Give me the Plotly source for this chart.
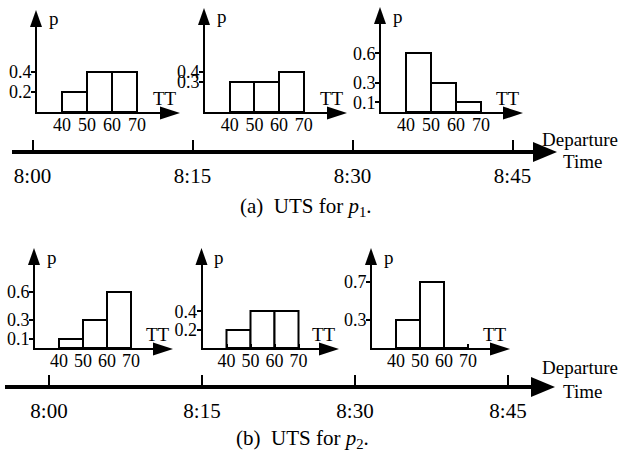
import plotly.graph_objects as go

W, H = 620, 454
FONT = "Liberation Serif, Times New Roman, serif"

# ---------------- data ----------------
tt_bins = [40, 50, 60]            # left edges of travel-time bins
tt_ticks = [40, 50, 60, 70]
bin_width = 10
tt_origin = 30

# UTS for p1 (departures 8:00, 8:15, 8:30)
p1_0800 = [0.2, 0.4, 0.4]
p1_0815 = [0.3, 0.3, 0.4]
p1_0830 = [0.6, 0.3, 0.1]
p1_yticks = [[0.2, 0.4], [0.3, 0.4], [0.1, 0.3, 0.6]]

# UTS for p2
p2_0800 = [0.1, 0.3, 0.6]
p2_0815 = [0.2, 0.4, 0.4]
p2_0830 = [0.3, 0.7, 0.0]
p2_yticks = [[0.1, 0.3, 0.6], [0.2, 0.4], [0.3, 0.7]]

time_vals = [0, 15, 30, 45]
time_labels = ["8:00", "8:15", "8:30", "8:45"]

series = [p1_0800, p1_0815, p1_0830, p2_0800, p2_0815, p2_0830]
yticks = p1_yticks + p2_yticks

# ---------------- geometry (window pixels) ----------------
# (y-axis x, x-arrow tip, x-axis y, y-arrow tip, px per 10 TT, px per 1.0 p)
panels = [
    (37, 180, 112, 10, 25.0, 100.0),
    (205, 347, 112, 8, 24.7, 100.0),
    (381, 523, 112, 7, 25.0, 98.0),
    (35, 173, 348, 248, 24.0, 93.5),
    (202.5, 339, 348, 248, 24.0, 92.0),
    (372, 510, 348, 248, 24.0, 95.0),
]
# timelines: (line start x, arrow tip x, line y, x of 8:00, px per 15 min,
#             "Departure" dy, "Time" dy)
timelines = [
    (12, 557, 152, 32.5, 160.0, -13, 9),
    (5, 555, 387, 49.0, 153.0, -20, 4),
]
AOFF = 8      # arrow tip beyond axis line end


def px(x):
    return x / W


def py(y):
    return 1 - y / H


fig = go.Figure()
layout = {}
shapes = []
annotations = []


def arrow(xp, yp, path):
    shapes.append(dict(type="path", xref="paper", yref="paper",
                       xsizemode="pixel", ysizemode="pixel",
                       xanchor=px(xp), yanchor=py(yp), path=path,
                       fillcolor="black", line=dict(width=0)))


def label(text, xp, yp, size=19):
    annotations.append(dict(text=text, x=px(xp), y=py(yp), xref="paper", yref="paper",
                            showarrow=False, xanchor="center", yanchor="middle",
                            font=dict(family=FONT, size=size, color="black")))


for i, (vals, yt, g) in enumerate(zip(series, yticks, panels), start=1):
    L, tipx, B, tipy, pxx, pxy = g
    xr = [tt_origin, tt_origin + (tipx - AOFF - L) / pxx * 10]
    yr = [0, (B - tipy - AOFF) / pxy]
    xa = "xaxis" if i == 1 else f"xaxis{i}"
    ya = "yaxis" if i == 1 else f"yaxis{i}"
    xn = "x" if i == 1 else f"x{i}"
    yn = "y" if i == 1 else f"y{i}"
    fig.add_trace(go.Bar(
        x=tt_bins, y=vals, width=bin_width, offset=0,
        marker=dict(color="white", line=dict(color="black", width=2)),
        xaxis=xn, yaxis=yn, showlegend=False, hoverinfo="skip",
    ))
    layout[xa] = dict(
        domain=[px(L), px(tipx - AOFF)], range=xr, anchor=yn,
        showline=True, linecolor="black", linewidth=2, showgrid=False, zeroline=False,
        tickvals=tt_ticks, ticktext=[str(v) for v in tt_ticks],
        ticks="inside", ticklen=4, tickwidth=1.5, tickcolor="black",
        tickfont=dict(family=FONT, size=18, color="black"),
        ticklabelstandoff=-5,
    )
    layout[ya] = dict(
        domain=[py(B), py(tipy + AOFF)], range=yr, anchor=xn,
        showline=True, linecolor="black", linewidth=2, showgrid=False, zeroline=False,
        tickvals=yt, ticktext=[f"{v:.1f}" for v in yt],
        ticks="outside", ticklen=4, tickwidth=1.5, tickcolor="black",
        tickfont=dict(family=FONT, size=18, color="black"),
        ticklabelstandoff=-4,
    )
    # arrowheads at the ends of both axes
    arrow(tipx - AOFF, B + 1, f"M {AOFF} 0 L {AOFF-20} 6.5 L {AOFF-20} -6.5 Z")
    arrow(L - 1, tipy + AOFF, f"M 0 {AOFF} L -6 {AOFF-17} L 6 {AOFF-17} Z")
    # axis titles
    label("p", L + 17, tipy + 9)
    label("TT", tipx - 15, B - 14)

for j, (x0, tip, ly, x800, p15, ddy, tdy) in enumerate(timelines):
    k = 7 + j
    xn, yn = f"x{k}", f"y{k}"
    tr = [(x0 - x800) / p15 * 15, (tip - 12 - x800) / p15 * 15]
    layout[f"xaxis{k}"] = dict(
        domain=[px(x0), px(tip - 12)], range=tr, anchor=yn,
        showline=True, linecolor="black", linewidth=4, showgrid=False, zeroline=False,
        tickvals=time_vals, ticktext=time_labels,
        ticks="inside", ticklen=10, tickwidth=1.5, tickcolor="black",
        tickfont=dict(family=FONT, size=21, color="black"),
        ticklabelstandoff=4,
    )
    layout[f"yaxis{k}"] = dict(domain=[py(ly - 2), py(ly - 30)], range=[0, 1], anchor=xn,
                               visible=False)
    fig.add_trace(go.Scatter(x=[tr[0]], y=[0.5], mode="markers", marker=dict(opacity=0),
                             xaxis=xn, yaxis=yn, showlegend=False, hoverinfo="skip"))
    arrow(tip - 12, ly, "M 12 0 L -12 10 L -12 -10 Z")
    label("Departure", 580, ly + ddy)
    label("Time", 582, ly + tdy)

label("(a)  UTS for <i>p</i><sub>1</sub>.", 306, 207, 21)
label("(b)  UTS for <i>p</i><sub>2</sub>.", 302, 439, 21)

fig.update_layout(
    width=W, height=H, margin=dict(l=0, r=0, t=0, b=0),
    paper_bgcolor="white", plot_bgcolor="white",
    shapes=shapes, annotations=annotations, bargap=0,
    **layout,
)

# remove the default 8px page margin so the figure fills the window exactly
fig.write_html("out.html",
               config={"displayModeBar": False},
               post_script="document.body.style.margin='0px';"
                           "document.body.style.overflow='hidden';")
